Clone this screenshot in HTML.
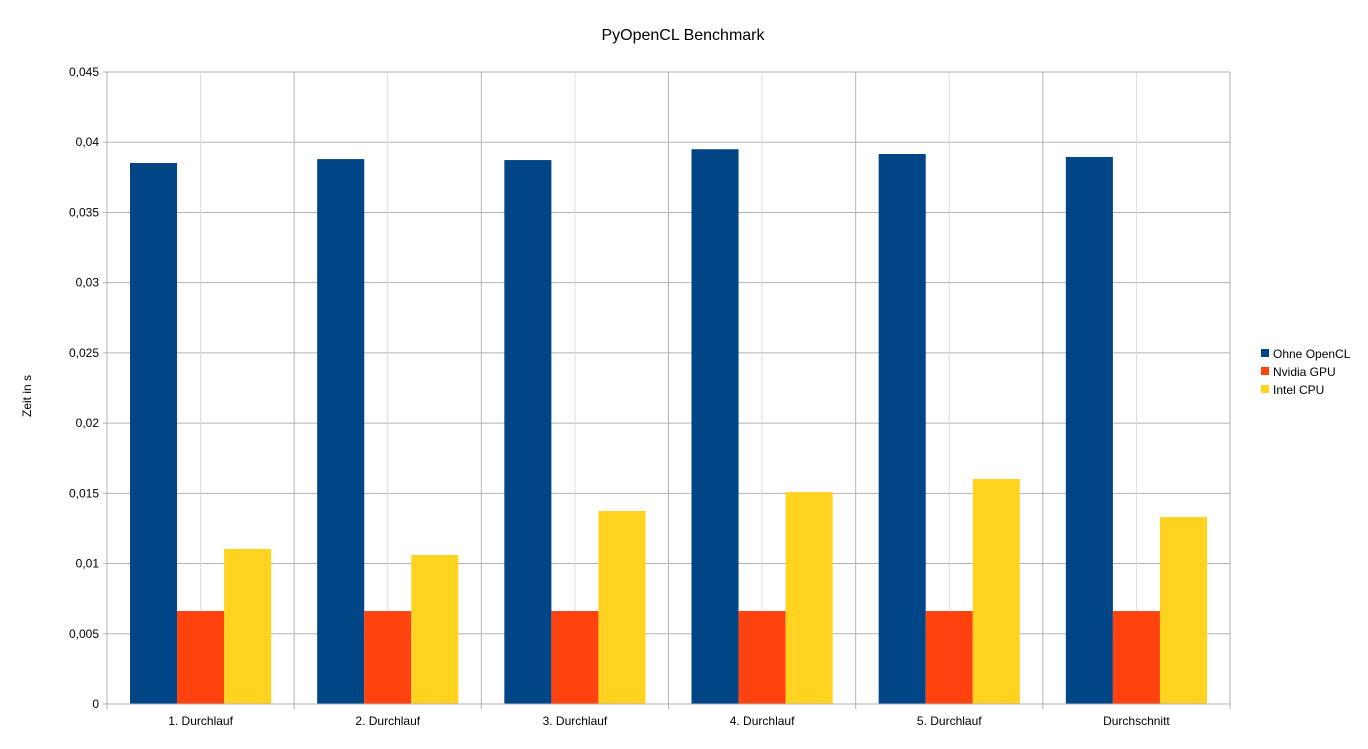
<!DOCTYPE html>
<html><head><meta charset="utf-8"><style>
body{margin:0;background:#fff;}
svg text{font-family:"Liberation Sans",sans-serif;fill:#000;}
</style></head><body>
<svg id="chart" width="1368" height="744" xmlns="http://www.w3.org/2000/svg">
<rect width="1368" height="744" fill="#fff"/>
<text x="683" y="40" font-size="16" text-anchor="middle">PyOpenCL Benchmark</text>
<text transform="translate(31,396) rotate(-90)" font-size="12" text-anchor="middle">Zeit in s</text>
<g id="grid"></g><g id="bars"></g><g id="axes"></g>
<g>
<rect x="1261" y="349" width="8" height="8" fill="#004586"/>
<text x="1273" y="358" font-size="12">Ohne OpenCL</text>
<rect x="1261" y="367" width="8" height="8" fill="#ff420e"/>
<text x="1273" y="376" font-size="12">Nvidia GPU</text>
<rect x="1261" y="385" width="8" height="8" fill="#ffd320"/>
<text x="1273" y="394" font-size="12">Intel CPU</text>
</g>
</svg>
<script>
const categories=["1. Durchlauf","2. Durchlauf","3. Durchlauf","4. Durchlauf","5. Durchlauf","Durchschnitt"];
const ohneOpenCL=[0.03852,0.0388,0.03873,0.0395,0.03916,0.03895];
const nvidiaGPU=[0.00662,0.00662,0.00662,0.00662,0.00662,0.00662];
const intelCPU=[0.01104,0.01061,0.01374,0.01509,0.01602,0.01331];
const yTicks=[0,0.005,0.01,0.015,0.02,0.025,0.03,0.035,0.04,0.045];
const yTickLabels=["0","0,005","0,01","0,015","0,02","0,025","0,03","0,035","0,04","0,045"];

const NS="http://www.w3.org/2000/svg";
const L=107,R=1230,T=72,B=704,YMAX=0.045;
const y=v=>B-(v/YMAX)*(B-T);
const cw=(R-L)/categories.length;
const x=i=>L+i*cw;
function mk(tag,attrs,parent){const e=document.createElementNS(NS,tag);for(const k in attrs)e.setAttribute(k,attrs[k]);parent.appendChild(e);return e;}
const grid=document.getElementById('grid'),bars=document.getElementById('bars'),axes=document.getElementById('axes');
yTicks.forEach((t,i)=>{
  const ln=mk('line',{x1:L,x2:R,y1:y(t),y2:y(t),stroke:'#b3b3b3','stroke-width':1},grid);
  
  
  mk('line',{x1:L-4,x2:L,y1:y(t),y2:y(t),stroke:'#b3b3b3'},axes);
  const tx=mk('text',{x:L-8,y:y(t)+4,'font-size':12,'text-anchor':'end'},axes);
  tx.textContent=yTickLabels[i];
  
  
});
for(let i=0;i<=categories.length;i++){
  const ln=mk('line',{x1:x(i),x2:x(i),y1:T,y2:B+5,stroke:'#b3b3b3'},grid);
  
  
  if(i<categories.length){
    const m=mk('line',{x1:x(i)+cw/2,x2:x(i)+cw/2,y1:T,y2:B,stroke:'#dddddd'},grid);
    
    
  }
}
const series=[[ohneOpenCL,'#004586','ohne-opencl'],[nvidiaGPU,'#ff420e','nvidia-gpu'],[intelCPU,'#ffd320','intel-cpu']];
const bw=(cw-46)/3;
categories.forEach((c,i)=>{
  series.forEach((s,j)=>{
    const v=s[0][i];
    const r=mk('rect',{x:x(i)+23+j*bw,y:y(v),width:bw,height:B-y(v),fill:s[1]},bars);
    
    
  });
  const tx=mk('text',{x:x(i)+cw/2,y:B+21,'font-size':12,'text-anchor':'middle'},axes);
  tx.textContent=c;
  
  
});
mk('line',{x1:L,x2:R,y1:B,y2:B,stroke:'#b3b3b3'},axes);
</script>
</body></html>
